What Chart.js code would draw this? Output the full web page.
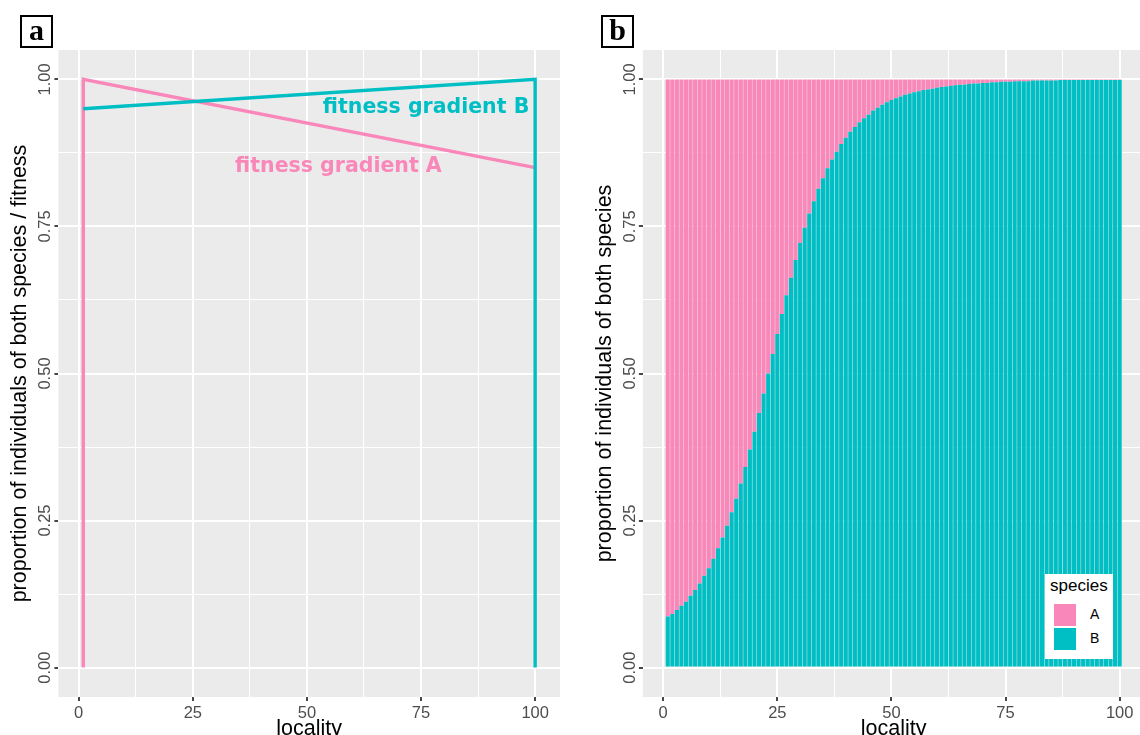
<!DOCTYPE html>
<html>
<head>
<meta charset="utf-8">
<script src="https://cdn.jsdelivr.net/npm/chart.js@4.4.1/dist/chart.umd.min.js"></script>
<style>
html,body{margin:0;padding:0;background:#fff;width:1140px;height:735px;overflow:hidden;}
#wrapA{position:absolute;left:0;top:0;width:580px;height:735px;}
#wrapB{position:absolute;left:580px;top:0;width:560px;height:735px;overflow:hidden;}
canvas{display:block;}
.tag{position:absolute;top:15px;width:29px;height:29px;border:2px solid #000;background:#fff;
 font:bold 30px "Liberation Serif","DejaVu Serif",serif;text-align:center;line-height:26px;color:#000;}
#legend{position:absolute;left:1045px;top:574px;width:68px;height:85px;background:#fff;
 font-family:"Liberation Sans",Arial,sans-serif;}
#legend .ttl{position:absolute;left:5px;top:2px;font-size:17px;color:#000;}
#legend .key{position:absolute;left:9px;width:22px;height:22px;}
#legend .lab{position:absolute;left:45px;font-size:14px;color:#000;}
</style>
</head>
<body>
<div id="wrapA"><canvas id="cA" width="580" height="735"></canvas></div>
<div id="wrapB"><canvas id="cB" width="570" height="735"></canvas></div>
<div class="tag" style="left:20px;">a</div>
<div class="tag" style="left:601px;">b</div>
<div id="legend"></div>
<script>
// ---------------- data ----------------
const localities = [1,2,3,4,5,6,7,8,9,10,11,12,13,14,15,16,17,18,19,20,
  21,22,23,24,25,26,27,28,29,30,31,32,33,34,35,36,37,38,39,40,
  41,42,43,44,45,46,47,48,49,50,51,52,53,54,55,56,57,58,59,60,
  61,62,63,64,65,66,67,68,69,70,71,72,73,74,75,76,77,78,79,80,
  81,82,83,84,85,86,87,88,89,90,91,92,93,94,95,96,97,98,99,100];

const proportionB = [0.087,0.091,0.098,0.105,0.112,0.122,0.132,0.143,0.156,0.169,
  0.185,0.203,0.221,0.241,0.264,0.287,0.313,0.341,0.371,0.401,
  0.433,0.466,0.500,0.533,0.567,0.601,0.633,0.663,0.693,0.722,
  0.748,0.772,0.793,0.814,0.832,0.849,0.864,0.877,0.890,0.901,
  0.911,0.919,0.927,0.934,0.940,0.947,0.952,0.957,0.961,0.965,
  0.968,0.971,0.974,0.976,0.978,0.980,0.982,0.983,0.984,0.986,
  0.987,0.988,0.989,0.990,0.991,0.991,0.992,0.993,0.993,0.994,
  0.994,0.995,0.995,0.996,0.996,0.996,0.997,0.997,0.997,0.997,
  0.998,0.998,0.998,0.998,0.998,0.998,0.999,0.999,0.999,0.999,
  0.999,0.999,0.999,0.999,0.999,0.999,0.999,0.999,0.999,0.999];

const proportionA = [0.913,0.909,0.902,0.895,0.888,0.878,0.868,0.857,0.844,0.831,
  0.815,0.797,0.779,0.759,0.736,0.713,0.687,0.659,0.629,0.599,
  0.567,0.534,0.500,0.467,0.433,0.399,0.367,0.337,0.307,0.278,
  0.252,0.228,0.207,0.186,0.168,0.151,0.136,0.123,0.110,0.099,
  0.089,0.081,0.073,0.066,0.060,0.053,0.048,0.043,0.039,0.035,
  0.032,0.029,0.026,0.024,0.022,0.020,0.018,0.017,0.016,0.014,
  0.013,0.012,0.011,0.010,0.009,0.009,0.008,0.007,0.007,0.006,
  0.006,0.005,0.005,0.004,0.004,0.004,0.003,0.003,0.003,0.003,
  0.002,0.002,0.002,0.002,0.002,0.002,0.001,0.001,0.001,0.001,
  0.001,0.001,0.001,0.001,0.001,0.001,0.001,0.001,0.001,0.001];

const fitnessA_x = [1, 1, 100];
const fitnessA_y = [0, 1.00, 0.85];
const fitnessB_x = [1, 100, 100];
const fitnessB_y = [0.95, 1.00, 0];

const speciesNames = ['A', 'B'];
const gradientLabels = ['fitness gradient A', 'fitness gradient B'];
const gradientLabelX = [56.9, 76.1];
const gradientLabelY = [0.852, 0.9515];

const xMajorTicks = [0, 25, 50, 75, 100];
const xTickLabels = ['0', '25', '50', '75', '100'];
const xGridValues = [0, 12.5, 25, 37.5, 50, 62.5, 75, 87.5, 100];
const yMajorTicks = [0, 0.25, 0.5, 0.75, 1];
const yTickLabels = ['0.00', '0.25', '0.50', '0.75', '1.00'];
const yGridValues = [0, 0.125, 0.25, 0.375, 0.5, 0.625, 0.75, 0.875, 1];

// ---------------- style ----------------
const PINK = '#F987B9';
const TEAL = '#00BFC4';
const PANEL_BG = '#EBEBEB';
const SANS = '"Liberation Sans", Arial, sans-serif';
const TICK_SIZE = 16.5, TITLE_SIZE = 21.5;
const X_MIN = -4.445, X_MAX = 105.445, Y_MIN = -0.05, Y_MAX = 1.05;

const bgPlugin = {
  id: 'panelBg',
  beforeDraw(chart) {
    const {ctx, chartArea: a} = chart;
    ctx.save();
    ctx.fillStyle = PANEL_BG;
    ctx.fillRect(a.left, a.top, a.right - a.left, a.bottom - a.top);
    ctx.restore();
  }
};

function isMajor(list, ctx) {
  return ctx.tick && list.some(v => Math.abs(v - ctx.tick.value) < 1e-9);
}

function makeScales(yTitle, yWidth, yTitlePad, stacked) {
  return {
    x: {
      type: 'linear', min: X_MIN, max: X_MAX, stacked: stacked, offset: false,
      afterBuildTicks: s => { s.ticks = xGridValues.map(v => ({value: v})); },
      afterFit: s => { s.height = 38; },
      ticks: {
        autoSkip: false, maxRotation: 0, minRotation: 0, padding: 2.5,
        color: '#4D4D4D', font: {family: SANS, size: TICK_SIZE},
        callback: v => { const i = xMajorTicks.indexOf(v); return i >= 0 ? xTickLabels[i] : ''; }
      },
      grid: {
        offset: false,
        color: '#FFFFFF',
        lineWidth: ctx => isMajor(xMajorTicks, ctx) ? 2 : 1,
        drawTicks: true, tickLength: 4, tickWidth: 1.8,
        tickColor: ctx => isMajor(xMajorTicks, ctx) ? '#333333' : 'rgba(0,0,0,0)'
      },
      border: {display: false},
      title: {display: true, text: 'locality', color: '#000', font: {family: SANS, size: TITLE_SIZE},
              padding: {top: 0, bottom: -7}}
    },
    y: {
      type: 'linear', min: Y_MIN, max: Y_MAX, stacked: stacked,
      afterBuildTicks: s => { s.ticks = yGridValues.map(v => ({value: v})); },
      afterFit: s => { s.width = yWidth; },
      ticks: {
        autoSkip: false, minRotation: 90, maxRotation: 90, crossAlign: 'center', padding: -7.5,
        color: '#4D4D4D', font: {family: SANS, size: TICK_SIZE},
        callback: v => { const i = yMajorTicks.findIndex(m => Math.abs(m - v) < 1e-9); return i >= 0 ? yTickLabels[i] : ''; }
      },
      grid: {
        color: '#FFFFFF',
        lineWidth: ctx => isMajor(yMajorTicks, ctx) ? 2 : 1,
        drawTicks: true, tickLength: 4, tickWidth: 1.8,
        tickColor: ctx => isMajor(yMajorTicks, ctx) ? '#333333' : 'rgba(0,0,0,0)'
      },
      border: {display: false},
      title: {display: true, text: yTitle, color: '#000', font: {family: SANS, size: TITLE_SIZE},
              padding: {top: yTitlePad, bottom: 0}}
    }
  };
}

// ---------------- panel a ----------------
const annotationPlugin = {
  id: 'gradientLabels',
  afterDatasetsDraw(chart) {
    const {ctx, scales} = chart;
    const colors = [PINK, TEAL];
    ctx.save();
    ctx.font = 'bold 20.5px "DejaVu Sans", sans-serif';
    ctx.textAlign = 'center';
    ctx.textBaseline = 'middle';
    gradientLabels.forEach((t, i) => {
      ctx.fillStyle = colors[i];
      ctx.fillText(t, scales.x.getPixelForValue(gradientLabelX[i]), scales.y.getPixelForValue(gradientLabelY[i]));
    });
    ctx.restore();
  }
};

new Chart(document.getElementById('cA'), {
  type: 'scatter',
  data: {
    datasets: [
      {label: 'fitness B', data: fitnessB_x.map((x, i) => ({x: x, y: fitnessB_y[i]})),
       showLine: true, borderColor: TEAL, borderWidth: 3.4, pointRadius: 0, borderJoinStyle: 'miter', borderCapStyle: 'butt', tension: 0},
      {label: 'fitness A', data: fitnessA_x.map((x, i) => ({x: x, y: fitnessA_y[i]})),
       showLine: true, borderColor: PINK, borderWidth: 3.4, pointRadius: 0, borderJoinStyle: 'miter', borderCapStyle: 'butt', tension: 0}
    ]
  },
  options: {
    responsive: false, animation: false, devicePixelRatio: 1,
    layout: {padding: {left: 0, top: 50, right: 20, bottom: 0}},
    plugins: {legend: {display: false}, tooltip: {enabled: false}},
    scales: makeScales('proportion of individuals of both species / fitness', 58.4, 7.1, false)
  },
  plugins: [bgPlugin, annotationPlugin]
});

// ---------------- panel b ----------------
new Chart(document.getElementById('cB'), {
  type: 'bar',
  data: {
    datasets: [
      {label: speciesNames[1], data: localities.map((x, i) => ({x: x, y: proportionB[i]})),
       backgroundColor: TEAL, borderWidth: 0, barPercentage: 0.9, categoryPercentage: 1.0},
      {label: speciesNames[0], data: localities.map((x, i) => ({x: x, y: proportionA[i]})),
       backgroundColor: PINK, borderWidth: 0, barPercentage: 0.9, categoryPercentage: 1.0}
    ]
  },
  options: {
    responsive: false, animation: false, devicePixelRatio: 1,
    layout: {padding: {left: 0, top: 50, right: 5.5, bottom: 0}},
    plugins: {legend: {display: false}, tooltip: {enabled: false}},
    scales: makeScales('proportion of individuals of both species', 62.9, 12.1, true)
  },
  plugins: [bgPlugin]
});

// ---------------- legend (panel b) ----------------
(function () {
  const lg = document.getElementById('legend');
  const t = document.createElement('div');
  t.className = 'ttl'; t.textContent = 'species'; lg.appendChild(t);
  const cols = [PINK, TEAL];
  speciesNames.forEach((n, i) => {
    const k = document.createElement('div');
    k.className = 'key'; k.style.top = (30 + i * 24) + 'px'; k.style.background = cols[i];
    lg.appendChild(k);
    const l = document.createElement('div');
    l.className = 'lab'; l.style.top = (32 + i * 24) + 'px'; l.textContent = n;
    lg.appendChild(l);
  });
})();
</script>
</body>
</html>
